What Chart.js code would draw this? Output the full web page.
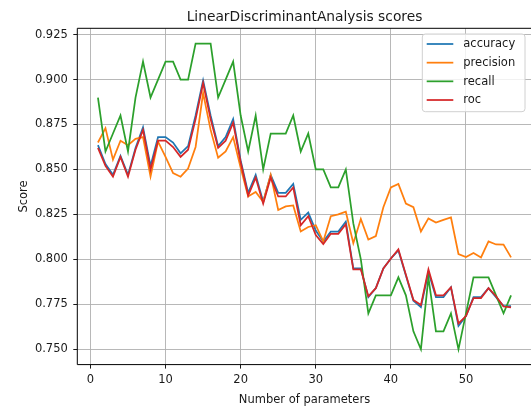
<!DOCTYPE html>
<html>
<head>
<meta charset="utf-8">
<script src="https://cdn.jsdelivr.net/npm/chart.js@4/dist/chart.umd.min.js"></script>
<style>
  html, body { margin: 0; padding: 0; overflow: hidden; background: #ffffff; }
  #wrap { position: relative; width: 531px; height: 406px; overflow: hidden; }
  #chart { position: absolute; left: 0; top: 0; display: block; }
</style>
</head>
<body>
<div id="wrap"><canvas id="chart" width="560" height="406"></canvas></div>
<script>
// Number of parameters used by the model
const params = [1, 2, 3, 4, 5, 6, 7, 8, 9, 10, 11, 12, 13, 14, 15, 16, 17, 18, 19, 20,
  21, 22, 23, 24, 25, 26, 27, 28, 29, 30, 31, 32, 33, 34, 35, 36, 37, 38, 39, 40,
  41, 42, 43, 44, 45, 46, 47, 48, 49, 50, 51, 52, 53, 54, 55, 56];

const accuracy = [0.8635, 0.853, 0.847, 0.8575, 0.847, 0.862, 0.8735, 0.852, 0.868, 0.868,
  0.865, 0.859, 0.863, 0.880, 0.8995, 0.880, 0.863, 0.868, 0.878, 0.855,
  0.837, 0.847, 0.832, 0.847, 0.837, 0.837, 0.842, 0.822, 0.826, 0.816,
  0.810, 0.8155, 0.8155, 0.821, 0.795, 0.795, 0.779, 0.784, 0.795, 0.8005,
  0.805, 0.791, 0.777, 0.7735, 0.793, 0.779, 0.779, 0.7845, 0.763, 0.7685,
  0.779, 0.779, 0.784, 0.779, 0.774, 0.774];

const precision = [0.865, 0.873, 0.8555, 0.866, 0.8635, 0.867, 0.868, 0.846, 0.8655, 0.857,
  0.848, 0.846, 0.8505, 0.8625, 0.8925, 0.872, 0.8565, 0.860, 0.868, 0.851,
  0.835, 0.8375, 0.832, 0.847, 0.8275, 0.8295, 0.830, 0.8155, 0.818, 0.819,
  0.810, 0.824, 0.825, 0.8265, 0.809, 0.8225, 0.811, 0.813, 0.829, 0.840,
  0.842, 0.831, 0.829, 0.8155, 0.8228, 0.8205, 0.822, 0.8233, 0.803, 0.8013,
  0.8035, 0.8011, 0.810, 0.8083, 0.8082, 0.8011];

const recall = [0.89, 0.86, 0.87, 0.88, 0.86, 0.89, 0.91, 0.89, 0.90, 0.91,
  0.91, 0.90, 0.90, 0.92, 0.92, 0.92, 0.89, 0.90, 0.91, 0.88,
  0.86, 0.88, 0.85, 0.87, 0.87, 0.87, 0.88, 0.86, 0.87, 0.85,
  0.85, 0.84, 0.84, 0.85, 0.82, 0.80, 0.77, 0.78, 0.78, 0.78,
  0.79, 0.78, 0.76, 0.75, 0.79, 0.76, 0.76, 0.77, 0.75, 0.77,
  0.79, 0.79, 0.79, 0.78, 0.77, 0.78];

const roc = [0.862, 0.852, 0.846, 0.857, 0.846, 0.861, 0.872, 0.850, 0.866, 0.866,
  0.8625, 0.857, 0.861, 0.878, 0.898, 0.878, 0.862, 0.866, 0.876, 0.854,
  0.8355, 0.8455, 0.831, 0.8455, 0.835, 0.835, 0.840, 0.819, 0.824, 0.8135,
  0.8085, 0.8142, 0.8142, 0.8195, 0.7945, 0.7945, 0.7795, 0.784, 0.795, 0.8005,
  0.8056, 0.7915, 0.7775, 0.7746, 0.7944, 0.780, 0.780, 0.7845, 0.7644, 0.7685,
  0.7785, 0.7785, 0.784, 0.7795, 0.7738, 0.7733];

const xTicks = [0, 10, 20, 30, 40, 50];
const yTicks = [0.750, 0.775, 0.800, 0.825, 0.850, 0.875, 0.900, 0.925];

const seriesNames = ['accuracy', 'precision', 'recall', 'roc'];
const seriesValues = [accuracy, precision, recall, roc];
const seriesColors = ['#1f77b4', '#ff7f0e', '#2ca02c', '#d62728'];

const FONT = '"DejaVu Sans", sans-serif';
const TEXT = '#1a1a1a';

const datasets = seriesNames.map((name, i) => ({
  label: name,
  data: params.map((p, k) => ({ x: p, y: seriesValues[i][k] })),
  borderColor: seriesColors[i],
  backgroundColor: seriesColors[i],
  borderWidth: 1.75,
  pointRadius: 0,
  tension: 0,
  fill: false,
  // later series are painted on top of earlier ones
  order: seriesNames.length - 1 - i
}));

// Axes frame (left, top, bottom), title, axis titles and legend box
const decorations = {
  id: 'decorations',
  afterDatasetsDraw(chart) {
    const { ctx, chartArea: a } = chart;
    ctx.save();
    ctx.strokeStyle = '#000';
    ctx.lineWidth = 1;
    ctx.beginPath();
    ctx.moveTo(a.right + 2, a.top);
    ctx.lineTo(a.left, a.top);
    ctx.lineTo(a.left, a.bottom);
    ctx.lineTo(a.right + 2, a.bottom);
    ctx.stroke();
    ctx.restore();
  },
  afterDraw(chart) {
    const { ctx, chartArea: a } = chart;
    const cx = (a.left + a.right) / 2;
    ctx.save();
    ctx.fillStyle = TEXT;
    ctx.textAlign = 'center';
    ctx.textBaseline = 'alphabetic';
    ctx.font = '13.8px ' + FONT;
    ctx.fillText('LinearDiscriminantAnalysis scores', cx, a.top - 7);
    ctx.font = '11.5px ' + FONT;
    ctx.fillText('Number of parameters', cx, 403);
    ctx.save();
    ctx.translate(27, (a.top + a.bottom) / 2);
    ctx.rotate(-Math.PI / 2);
    ctx.fillText('Score', 0, 0);
    ctx.restore();

    // legend
    const bx = 422.3, by = 34, bw = 102.7, bh = 77.7, r = 3;
    ctx.beginPath();
    ctx.moveTo(bx + r, by);
    ctx.arcTo(bx + bw, by, bx + bw, by + bh, r);
    ctx.arcTo(bx + bw, by + bh, bx, by + bh, r);
    ctx.arcTo(bx, by + bh, bx, by, r);
    ctx.arcTo(bx, by, bx + bw, by, r);
    ctx.closePath();
    ctx.fillStyle = 'rgba(255,255,255,0.8)';
    ctx.fill();
    ctx.strokeStyle = '#d0d0d0';
    ctx.lineWidth = 1;
    ctx.stroke();
    chart.data.datasets.forEach((ds, i) => {
      const y = 44 + i * 18.67;
      ctx.beginPath();
      ctx.moveTo(426.7, y);
      ctx.lineTo(453.3, y);
      ctx.strokeStyle = ds.borderColor;
      ctx.lineWidth = 1.75;
      ctx.stroke();
      ctx.fillStyle = TEXT;
      ctx.textAlign = 'left';
      ctx.textBaseline = 'middle';
      ctx.font = '11.5px ' + FONT;
      ctx.fillText(ds.label, 463.3, y + 0.5);
    });
    ctx.restore();
  }
};

new Chart(document.getElementById('chart'), {
  type: 'line',
  data: { datasets },
  plugins: [decorations],
  options: {
    responsive: false,
    animation: false,
    devicePixelRatio: 1,
    layout: { padding: { left: 0, right: 28.3, top: 28.3, bottom: 0 } },
    plugins: { legend: { display: false }, title: { display: false }, tooltip: { enabled: false } },
    scales: {
      x: {
        type: 'linear',
        min: -1.75,
        max: 58.75,
        afterBuildTicks: s => { s.ticks = xTicks.map(v => ({ value: v })); },
        afterFit: s => { s.height = 41.4; },
        ticks: { autoSkip: false, maxRotation: 0, padding: 5, color: TEXT, font: { family: FONT, size: 11.5 },
          callback: v => String(v) },
        grid: { color: '#b0b0b0', lineWidth: 0.9, tickColor: '#000', tickLength: 4, tickWidth: 0.9 },
        border: { display: false }
      },
      y: {
        type: 'linear',
        min: 0.7415,
        max: 0.9285,
        afterBuildTicks: s => { s.ticks = yTicks.map(v => ({ value: v })); },
        afterFit: s => { s.width = 77.3; },
        ticks: { autoSkip: false, padding: 5.5, color: TEXT, font: { family: FONT, size: 11.5 },
          callback: v => v.toFixed(3) },
        grid: { color: '#b0b0b0', lineWidth: 0.9, tickColor: '#000', tickLength: 4, tickWidth: 0.9 },
        border: { display: false }
      }
    }
  }
});
</script>
</body>
</html>
